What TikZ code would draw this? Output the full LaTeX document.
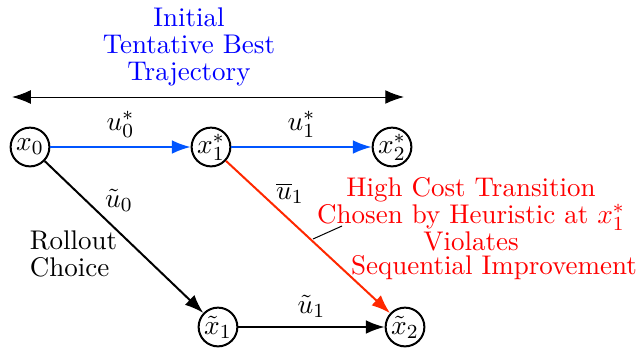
\documentclass[tikz,border=0pt]{standalone}
\usetikzlibrary{arrows.meta}
\definecolor{trajblue}{RGB}{0,85,255}
\definecolor{costred}{RGB}{255,40,0}
\begin{document}
\begin{tikzpicture}[x=0.4pt,y=-0.4pt,
  every node/.style={font=\fontsize{10.8}{10.8}\selectfont},
  stnode/.style={draw,thick,circle,minimum size=15.5pt,inner sep=0pt},
  link/.style={thick,-{Latex[length=7.5pt,width=5.5pt]}}]
\useasboundingbox (0,0) rectangle (640,348);
% states
\node[stnode] (x0) at (30,147) {$x_0$};
\node[stnode] (x1s) at (211,147) {$x_1^*$};
\node[stnode] (x2s) at (392,147) {$x_2^*$};
\node[stnode] (xt1) at (218,327) {$\tilde{x}_1$};
\node[stnode] (xt2) at (405,327) {$\tilde{x}_2$};
% tentative best trajectory
\node[blue,align=center] (best) at (189,47) {Initial\\Tentative Best\\Trajectory};
\coordinate (bl) at (12,97);
\coordinate (br) at (404,97);
\draw[{Latex[length=7.5pt,width=5.5pt]}-{Latex[length=7.5pt,width=5.5pt]}] (bl) -- (br);
% transitions
\draw[link,trajblue] (x0) -- node[above,black] (u0s) {$u_0^*$} (x1s);
\draw[link,trajblue] (x1s) -- node[above,black] (u1s) {$u_1^*$} (x2s);
\draw[link,costred] (x1s) -- (xt2);
\draw[link] (x0) -- (xt1);
\draw[link] (xt1) -- node[above,black] (ut1) {$\tilde{u}_1$} (xt2);
\node (ut0) at (119,200) {$\tilde{u}_0$};
\node (ub1) at (290,193) {$\overline{u}_1$};
\node[align=left,anchor=west] (roll) at (21,254) {Rollout\\Choice};
% annotation
\node[red,align=center] (cost) at (471,214) {High Cost Transition\\Chosen by Heuristic at $x_1^*$\\Violates};
\node[red] (seq) at (494,268) {Sequential Improvement};
\coordinate (p1) at (313,239);
\coordinate (p2) at (342,226);
\draw (p1) -- (p2);
\end{tikzpicture}
\end{document}
